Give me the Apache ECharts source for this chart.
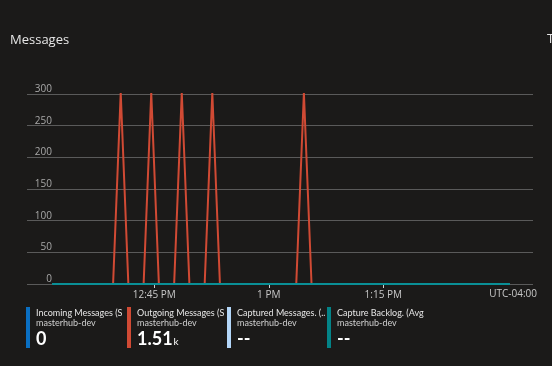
<!DOCTYPE html>
<html><head><meta charset="utf-8">
<script src="https://cdn.jsdelivr.net/npm/echarts@6/dist/echarts.min.js"></script>
<style>html,body{margin:0;padding:0;background:#1b1a19;}#c{width:552px;height:366px;}</style>
</head><body><div id="c"></div>
<script>
// Sample timestamps (1-minute grain)
var times = ["12:31:36","12:32:36","12:33:36","12:34:36","12:35:36","12:36:36","12:37:36","12:38:36","12:39:36","12:40:36",
"12:41:36","12:42:36","12:43:36","12:44:36","12:45:36","12:46:36","12:47:36","12:48:36","12:49:36","12:50:36",
"12:51:36","12:52:36","12:53:36","12:54:36","12:55:36","12:56:36","12:57:36","12:58:36","12:59:36","1:00:36",
"1:01:36","1:02:36","1:03:36","1:04:36","1:05:36","1:06:36","1:07:36","1:08:36","1:09:36","1:10:36",
"1:11:36","1:12:36","1:13:36","1:14:36","1:15:36","1:16:36","1:17:36","1:18:36","1:19:36","1:20:36",
"1:21:36","1:22:36","1:23:36","1:24:36","1:25:36","1:26:36","1:27:36","1:28:36","1:29:36","1:30:36","1:31:36"];
var incoming = [0,0,0,0,0,0,0,0,0,0, 0,0,0,0,0,0,0,0,0,0, 0,0,0,0,0,0,0,0,0,0, 0,0,0,0,0,0,0,0,0,0, 0,0,0,0,0,0,0,0,0,0, 0,0,0,0,0,0,0,0,0,0,0];
var outgoing = [0,0,0,0,0,0,0,0,0,302, 0,0,0,302,0,0,0,302,0,0, 0,302,0,0,0,0,0,0,0,0, 0,0,0,302,0,0,0,0,0,0, 0,0,0,0,0,0,0,0,0,0, 0,0,0,0,0,0,0,0,0,0,0];
var backlog = [0,0,0,0,0,0,0,0,0,0, 0,0,0,0,0,0,0,0,0,0, 0,0,0,0,0,0,0,0,0,0, 0,0,0,0,0,0,0,0,0,0, 0,0,0,0,0,0,0,0,0,0, 0,0,0,0,0,0,0,0,0,0,0];
var xTicks = [45, 60, 75];            // minutes after 12 PM
var yTicks = [0, 50, 100, 150, 200, 250, 300];
var legendNames = ["Incoming Messages (Sum)", "Outgoing Messages (Sum)", "Captured Messages. (...", "Capture Backlog. (Avg)"];
var legendSub = ["masterhub-dev", "masterhub-dev", "masterhub-dev", "masterhub-dev"];
var legendVals = ["0", "1.51|k", "--", "--"];
var colors = ["#0a6fc2", "#d04a34", "#b3d6f8", "#038387"];

function toMin(s){var p=s.split(':');var h=+p[0];if(h===12)h=0;return h*60+(+p[1])+(+p[2])/60;}
function pts(arr){return arr.map(function(v,i){return [toMin(times[i]), v];});}
function fmt(m){var h=Math.floor(m/60),mm=Math.round(m%60);var hh=h===0?12:h;return mm===0?(hh+' PM'):(hh+':'+(mm<10?'0':'')+mm+' PM');}

var FONT = '"Open Sans","Noto Sans",sans-serif';
var LFONT = 'Lato,"Open Sans",sans-serif';
var graphics = [
  {type:'text', left:10, top:34, style:{text:'Messages', fill:'#e6e6e6', font:'13px '+FONT}},
  {type:'text', left:547, top:33, style:{text:'T', fill:'#e6e6e6', font:'13px '+FONT}},
  {type:'text', right:15, top:289, style:{text:'UTC-04:00', fill:'#c8c8c8', font:'10px '+FONT}}
];
var xs = [26, 127, 227, 327];
for (var i=0;i<4;i++){
  graphics.push({type:'rect', shape:{x:xs[i], y:307, width:4, height:41}, style:{fill:colors[i]}});
  graphics.push({type:'text', x:xs[i]+10, y:309, style:{text:legendNames[i], fill:'#e6e6e6', font:'9px '+LFONT, width:90, overflow:'truncate', ellipsis:''}});
  graphics.push({type:'text', x:xs[i]+10, y:319, style:{text:legendSub[i], fill:'#d0d0d0', font:'9px '+LFONT}});
  var v = legendVals[i];
  if (v.indexOf('|')>=0){
    var p = v.split('|');
    graphics.push({type:'text', x:xs[i]+10, y:330, style:{text:'{a|'+p[0]+'}{b|'+p[1]+'}', rich:{a:{fill:'#ffffff', font:'bold 18px '+LFONT, verticalAlign:'bottom'}, b:{fill:'#ffffff', font:'10px '+LFONT, verticalAlign:'bottom', padding:[0,0,1,1]}}}});
  } else {
    graphics.push({type:'text', x:xs[i]+10, y:330, style:{text:v, fill:'#ffffff', font:'bold 18px '+LFONT}});
  }
}

var chart = echarts.init(document.getElementById('c'), null, {renderer:'canvas'});
chart.setOption({
  backgroundColor:'#1b1a19',
  animation:false,
  grid:{left:27, right:19, top:94, bottom:82},
  xAxis:{type:'value', min:28.32, max:94.62,
    axisLine:{show:false},
    axisTick:{show:true, customValues:xTicks, length:4, lineStyle:{color:'#cfcfcf', width:1}},
    axisLabel:{customValues:xTicks, formatter:fmt, color:'#c8c8c8', fontSize:10, fontFamily:FONT, margin:6},
    splitLine:{show:false}},
  yAxis:{type:'value', min:0, max:300, interval:50,
    axisLine:{show:false}, axisTick:{show:false},
    axisLabel:{inside:true, align:'right', margin:25, verticalAlign:'bottom', color:'#a8a8a8', fontSize:10, fontFamily:FONT, padding:[0,0,0,0]},
    splitLine:{lineStyle:{color:'#5a5a5a', width:1}}},
  series:[
    {type:'line', data:pts(incoming), showSymbol:false, lineStyle:{color:colors[0], width:2}, z:2},
    {type:'line', data:pts(outgoing), showSymbol:false, lineStyle:{color:colors[1], width:2}, z:3},
    {type:'line', data:pts(backlog), showSymbol:false, lineStyle:{color:'#0a8f96', width:2}, z:4}
  ],
  graphic:graphics
});
</script></body></html>
